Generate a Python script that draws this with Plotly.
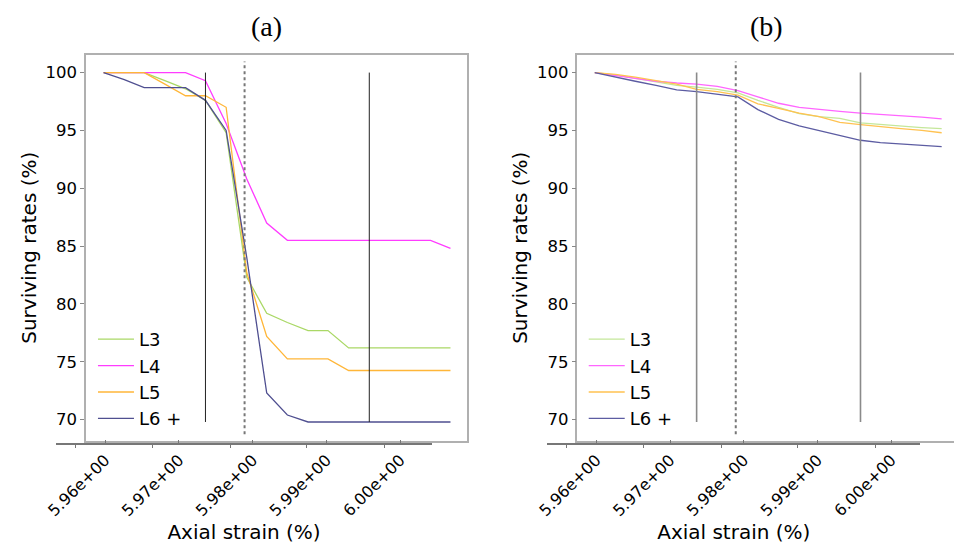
import plotly.graph_objects as go

# ---------------- data ----------------
strain = [5.9598, 5.9626, 5.9653, 5.9681, 5.9709, 5.9736, 5.9764, 5.9792, 5.9819,
          5.9847, 5.9875, 5.9902, 5.9930, 5.9958, 5.9985, 6.0013, 6.0041, 6.0068]

# panel (a)
a_L3 = [100, 100, 100, 99.3, 98.6, 97.6, 94.8, 82.3, 79.2, 78.4, 77.7, 77.7, 76.2, 76.2, 76.2, 76.2, 76.2, 76.2]
a_L4 = [100, 100, 100, 100, 100, 99.3, 95.6, 90.8, 87.0, 85.5, 85.5, 85.5, 85.5, 85.5, 85.5, 85.5, 85.5, 84.8]
a_L5 = [100, 100, 100, 99.0, 98.0, 98.0, 97.0, 82.7, 77.2, 75.25, 75.25, 75.25, 74.25, 74.25, 74.25, 74.25, 74.25, 74.25]
a_L6 = [100, 99.4, 98.7, 98.7, 98.7, 97.6, 95.0, 84.0, 72.3, 70.4, 69.8, 69.8, 69.8, 69.8, 69.8, 69.8, 69.8, 69.8]

# panel (b)
b_L3 = [100, 99.8, 99.5, 99.2, 98.9, 98.75, 98.55, 98.25, 97.6, 97.0, 96.45, 96.2, 96.05, 95.65, 95.5, 95.35, 95.25, 95.15]
b_L4 = [100, 99.75, 99.45, 99.25, 99.1, 99.0, 98.8, 98.45, 97.9, 97.35, 97.0, 96.8, 96.65, 96.5, 96.4, 96.3, 96.15, 96.0]
b_L5 = [100, 99.85, 99.6, 99.3, 99.0, 98.55, 98.35, 98.05, 97.3, 96.9, 96.5, 96.2, 95.7, 95.5, 95.3, 95.15, 95.0, 94.8]
b_L6 = [100, 99.6, 99.25, 98.9, 98.5, 98.35, 98.15, 97.9, 96.8, 95.95, 95.4, 95.0, 94.55, 94.15, 93.95, 93.85, 93.75, 93.6]

series_names = ["L3", "L4", "L5", "L6 +"]

solid_marks = [5.9736, 5.9958]
solid_span = [69.8, 100]
dotted_mark = 5.9789
dotted_span = [68.75, 100.95]

major_ticks = [5.96, 5.97, 5.98, 5.99, 6.00]
major_labels = ["5.96e+00", "5.97e+00", "5.98e+00", "5.99e+00", "6.00e+00"]
minor_ticks = [5.9560, 5.9664, 5.9770, 5.9873, 5.9978]
y_ticks = [70, 75, 80, 85, 90, 95, 100]

# ---------------- styles ----------------
colors_a = ["#aad866", "#ff3cff", "#ffb638", "#4f4f90"]
colors_b = ["#c4e79a", "#ff66ff", "#ffc251", "#5c5ca2"]
FONT = "DejaVu Sans"

W, H = 954, 550
def px(x):
    return x / W
def py(y):
    return (H - y) / H

fig = go.Figure()

panels = [
    dict(series=[a_L3, a_L4, a_L5, a_L6], colors=colors_a, xa="x", ya="y", xt="x3",
         legend="legend", solid_color="#222222", solid_w=1.0),
    dict(series=[b_L3, b_L4, b_L5, b_L6], colors=colors_b, xa="x2", ya="y2", xt="x4",
         legend="legend2", solid_color="#8a8a8a", solid_w=1.6),
]

for p in panels:
    for name, vals, col in zip(series_names, p["series"], p["colors"]):
        fig.add_trace(go.Scatter(x=strain, y=vals, mode="lines", name=name,
                                 line=dict(color=col, width=1.3),
                                 xaxis=p["xa"], yaxis=p["ya"], legend=p["legend"]))
    for xv in solid_marks:
        fig.add_trace(go.Scatter(x=[xv, xv], y=solid_span, mode="lines", showlegend=False,
                                 line=dict(color=p["solid_color"], width=p["solid_w"]),
                                 xaxis=p["xa"], yaxis=p["ya"], hoverinfo="skip"))
    fig.add_trace(go.Scatter(x=[dotted_mark, dotted_mark], y=dotted_span, mode="lines",
                             showlegend=False, line=dict(color="#777777", width=2, dash="dot"),
                             xaxis=p["xa"], yaxis=p["ya"], hoverinfo="skip"))
    # dummy trace to instantiate the labelled strain axis
    fig.add_trace(go.Scatter(x=[major_ticks[0]], y=[None], mode="lines", showlegend=False,
                             xaxis=p["xt"], yaxis=p["ya"], hoverinfo="skip"))

box_line = dict(showline=True, linecolor="#b0b0b0", linewidth=1.5)

ydom = [py(440.5), py(55)]
yrange = [68.2, 101.52]

def yaxis_cfg(mirror):
    return dict(domain=ydom, range=yrange, tickvals=y_ticks, ticks="outside", ticklen=4,
                tickcolor="#888888", tickfont=dict(size=16.5, color="black", family=FONT),
                showgrid=False, zeroline=False, mirror=mirror,
                title=dict(text="Surviving rates (%)", font=dict(size=20, color="black", family=FONT),
                           standoff=4),
                **box_line)

def xbox_cfg(dom, rng, anchor):
    return dict(domain=dom, range=rng, anchor=anchor, showticklabels=False, ticks="",
                showgrid=False, zeroline=False, mirror=True, **box_line)

def xtick_cfg(dom, rng, anchor):
    return dict(domain=dom, range=rng, anchor="free", position=py(443.7),
                showline=True, linecolor="#777777", linewidth=1.5,
                tickmode="array", tickvals=major_ticks, ticktext=major_labels,
                ticks="inside", ticklen=3, tickcolor="#777777", tickangle=-45,
                tickfont=dict(size=16, color="black", family=FONT),
                minor=dict(tickmode="array", tickvals=minor_ticks, ticks="outside",
                           ticklen=4, tickcolor="#777777"),
                showgrid=False, zeroline=False,
                title=dict(text="Axial strain (%)", font=dict(size=20, color="black", family=FONT),
                           standoff=4))

legend_common = dict(xanchor="left", yanchor="top", bgcolor="rgba(0,0,0,0)",
                     font=dict(size=18, family=FONT, color="black"), itemwidth=36)

fig.update_layout(
    width=W, height=H,
    margin=dict(l=0, r=0, t=0, b=0),
    paper_bgcolor="white", plot_bgcolor="rgba(0,0,0,0)",
    font=dict(family=FONT, color="black"),
    xaxis=xbox_cfg([px(75), px(460.5)], [5.95742, 6.0090], "y"),
    xaxis2=xbox_cfg([px(572.7), 1.0], [5.95746, 6.00847], "y2"),
    xaxis3=xtick_cfg([px(45), px(425)], [5.9534, 6.00424], "y"),
    xaxis4=xtick_cfg([px(542), px(920)], [5.95335, 6.00393], "y2"),
    yaxis=dict(anchor="x", **yaxis_cfg(True)),
    yaxis2=dict(anchor="x2", **yaxis_cfg(False)),
    legend=dict(x=px(82), y=py(321), **legend_common),
    legend2=dict(x=px(579), y=py(321), **legend_common),
    annotations=[
        dict(text="(a)", x=px(258), y=py(27), xref="paper", yref="paper", showarrow=False,
             xanchor="center", yanchor="middle",
             font=dict(family="Liberation Serif", size=28, color="black")),
        dict(text="(b)", x=px(764), y=py(27), xref="paper", yref="paper", showarrow=False,
             xanchor="center", yanchor="middle",
             font=dict(family="Liberation Serif", size=28, color="black")),
    ],
)

fig.write_html("out.html", config={"displayModeBar": False},
               post_script="document.body.style.margin='0';document.body.style.overflow='hidden';")
